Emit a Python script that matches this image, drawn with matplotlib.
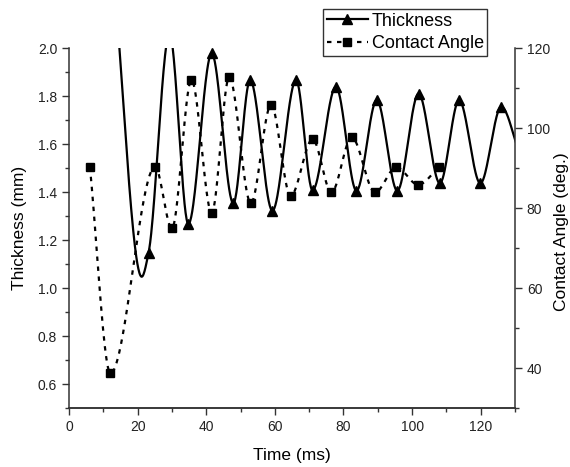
import numpy as np
import matplotlib.pyplot as plt
from matplotlib.ticker import MultipleLocator

plt.rcParams['font.family'] = ['Liberation Sans', 'DejaVu Sans']

# Thickness curve (mm); triangles only on some points
thickness_time = [12.0, 14.7, 21.2, 23.2, 29.3, 34.8, 41.6, 47.9, 52.8, 59.3, 66.2,
                  71.0, 77.8, 83.8, 89.7, 95.7, 101.9, 108.1, 113.7, 119.9, 126.0, 131.5]
thickness_mm = [2.75, 2.0, 1.047, 1.147, 2.06, 1.267, 1.978, 1.353, 1.867, 1.322, 1.867,
                1.407, 1.839, 1.405, 1.783, 1.405, 1.81, 1.436, 1.783, 1.436, 1.755, 1.55]
triangle_idx = [3, 5, 6, 7, 8, 9, 10, 11, 12, 13, 14, 15, 16, 17, 18, 19, 20]

# Contact angle points (deg.)
angle_time = [6.1, 12.1, 25.1, 30.0, 35.7, 41.6, 46.7, 53.0, 58.9, 64.6, 71.0,
              76.5, 82.4, 89.2, 95.4, 101.8, 107.8]
angle_deg = [90.3, 38.7, 90.3, 74.9, 112.0, 78.8, 112.7, 81.2, 105.8, 83.0, 97.2,
             83.9, 97.7, 83.9, 90.2, 85.8, 90.2]


def pchip(x, y, xs):
    # shape preserving cubic, so the curve stays smooth like the original spline
    x = np.asarray(x, float)
    y = np.asarray(y, float)
    h = np.diff(x)
    d = np.diff(y) / h
    n = len(x)
    m = np.zeros(n)
    for k in range(1, n - 1):
        if d[k - 1] * d[k] > 0:
            w1 = 2 * h[k] + h[k - 1]
            w2 = h[k] + 2 * h[k - 1]
            m[k] = (w1 + w2) / (w1 / d[k - 1] + w2 / d[k])
    m[0] = d[0]
    m[-1] = d[-1]
    idx = np.clip(np.searchsorted(x, xs) - 1, 0, n - 2)
    t = (xs - x[idx]) / h[idx]
    h00 = 2 * t**3 - 3 * t**2 + 1
    h10 = t**3 - 2 * t**2 + t
    h01 = -2 * t**3 + 3 * t**2
    h11 = t**3 - t**2
    return (h00 * y[idx] + h10 * h[idx] * m[idx]
            + h01 * y[idx + 1] + h11 * h[idx] * m[idx + 1])


fig = plt.figure(figsize=(5.7, 4.67), dpi=100)
ax = fig.add_axes([0.121, 0.1263, 0.7825, 0.7709])
ax2 = ax.twinx()

ts = np.linspace(thickness_time[0], thickness_time[-1], 800)
ax.plot(ts, pchip(thickness_time, thickness_mm, ts), color='black', lw=1.6, zorder=3)
ax.plot(np.array(thickness_time)[triangle_idx], np.array(thickness_mm)[triangle_idx],
        ls='none', marker='^', ms=7, color='black', zorder=4)

ta = np.linspace(angle_time[0], angle_time[-1], 800)
ax2.plot(ta, pchip(angle_time, angle_deg, ta), color='black', lw=1.6,
         ls=(0, (2.0, 2.5)), zorder=3)
ax2.plot(angle_time, angle_deg, ls='none', marker='s', ms=6, color='black', zorder=4)

ax.set_xlim(0, 130)
ax.set_ylim(0.5, 2.0)
ax2.set_ylim(30, 120)

ax.xaxis.set_major_locator(MultipleLocator(20))
ax.xaxis.set_minor_locator(MultipleLocator(10))
ax.yaxis.set_minor_locator(MultipleLocator(0.1))
ax2.yaxis.set_minor_locator(MultipleLocator(10))
ax.set_yticks(np.arange(0.6, 2.01, 0.2))
ax2.set_yticks([40, 60, 80, 100, 120])

for a in (ax, ax2):
    a.spines['top'].set_visible(False)
    for s in a.spines.values():
        s.set_color('#333333')
        s.set_linewidth(1.1)
    a.tick_params(which='major', length=5, width=1, color='#333333',
                  labelsize=10, labelcolor='#222222', direction='out')
    a.tick_params(which='minor', length=3, width=1, color='#333333', direction='out')
ax2.spines['left'].set_visible(False)
ax.spines['right'].set_visible(False)

ax.set_xlabel('Time (ms)', fontsize=12.5, labelpad=10)
ax.set_ylabel('Thickness (mm)', fontsize=12.5, labelpad=8)
ax2.set_ylabel('Contact Angle (deg.)', fontsize=12.5)
ax2.yaxis.set_label_coords((554 - 69) / 446, 0.49)

h1 = plt.Line2D([], [], color='black', lw=1.6, marker='^', ms=7)
h2 = plt.Line2D([], [], color='black', lw=1.6, ls=(0, (2.0, 2.5)), marker='s', ms=6)
leg = fig.legend([h1, h2], ['Thickness', 'Contact Angle'],
                 loc='upper left', bbox_to_anchor=(323 / 570, 1 - 9 / 467),
                 fontsize=13, frameon=True, fancybox=False, borderpad=0.2,
                 labelspacing=0.3, handlelength=2.3, handletextpad=0.2,
                 borderaxespad=0)
leg.get_frame().set_edgecolor('black')
leg.get_frame().set_linewidth(1)

fig.savefig('out.png', dpi=100)
